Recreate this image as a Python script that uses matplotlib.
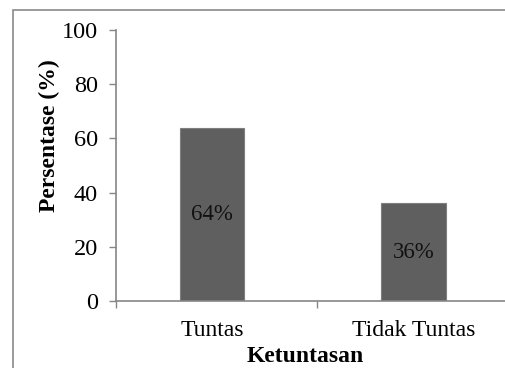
import matplotlib.pyplot as plt
from matplotlib.patches import Rectangle

categories = ["Tuntas", "Tidak Tuntas"]
values = [64, 36]
labels = ["64%", "36%"]
yticks = [0, 20, 40, 60, 80, 100]

plt.rcParams['font.family'] = ['Liberation Serif', 'DejaVu Serif']

fig = plt.figure(figsize=(5.06, 3.68), dpi=100)
ax = fig.add_axes([116/506, 1-301/368, (514-116)/506, 271/368])

x = list(range(len(categories)))
bars = ax.bar(x, values, width=0.32, color='#5f5f5f', edgecolor='#7f7f7f', linewidth=0.8)
for xi, v, lab in zip(x, values, labels):
    ax.text(xi, v/2, lab, ha='center', va='center', fontsize=16.5, color='#111111')

ax.set_xlim(-0.476, 1.5)
ax.set_ylim(0, 100)
ax.set_yticks(yticks)
ax.set_yticklabels([str(t) for t in yticks], fontsize=17.5)
ax.set_xticks(x)
ax.set_xticklabels(categories, fontsize=17)
ax.tick_params(axis='x', length=0, pad=14)
ax.tick_params(axis='y', length=5, width=1, color='#868686', pad=8)
ax.set_xticks([-0.476, 0.52], minor=True)
ax.tick_params(axis='x', which='minor', length=5, width=1, color='#868686')

for s in ['top', 'right']:
    ax.spines[s].set_visible(False)
for s in ['left', 'bottom']:
    ax.spines[s].set_color('#868686')
    ax.spines[s].set_linewidth(1.2)

ax.set_ylabel("Persentase (%)", fontsize=17, fontweight='bold', va='center')
ax.yaxis.set_label_coords(-0.168, 0.609)
fig.text(305/506, 1-356/368, "Ketuntasan", ha='center', va='center', fontsize=17, fontweight='bold')

# outer border of the chart area
fig.patches.append(Rectangle((13/506, -0.1), 1.2, 1-10/368+0.1, transform=fig.transFigure,
                             fill=False, edgecolor='#8a8a8a', linewidth=1.2))

fig.savefig("out.png", dpi=100)
